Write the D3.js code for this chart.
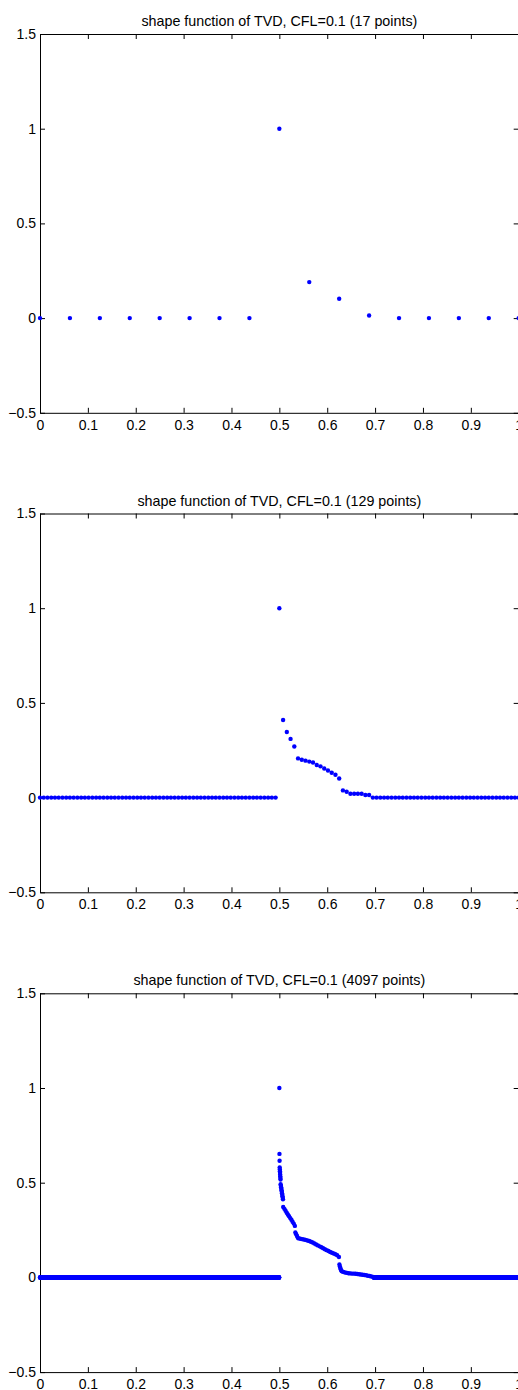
<!DOCTYPE html>
<html>
<head>
<meta charset="utf-8">
<script src="https://cdn.jsdelivr.net/npm/d3@7"></script>
<style>
  body { margin: 0; background: #fff; }
  svg { display: block; }
  text { font-family: "Liberation Sans", Arial, Helvetica, sans-serif; fill: #000; }
</style>
</head>
<body>
<svg id="fig" width="518" height="1390"></svg>
<script>
// ---- tick labels ----
const xTicks = [0, 0.1, 0.2, 0.3, 0.4, 0.5, 0.6, 0.7, 0.8, 0.9, 1];
const yTicks = [-0.5, 0, 0.5, 1, 1.5];

// ---- panel titles ----
const titles = [
  "shape function of TVD, CFL=0.1 (17 points)",
  "shape function of TVD, CFL=0.1 (129 points)",
  "shape function of TVD, CFL=0.1 (4097 points)"
];

// ---- 17-point grid: shape function values ----
const tvd17 = [0, 0, 0, 0, 0, 0, 0, 0, 1, 0.19, 0.102, 0.014, 0, 0, 0, 0, 0];

// ---- 129-point grid: shape function values ----
const tvd129 = [
  0, 0, 0, 0, 0, 0, 0, 0, 0, 0, 0, 0, 0, 0, 0, 0,
  0, 0, 0, 0, 0, 0, 0, 0, 0, 0, 0, 0, 0, 0, 0, 0,
  0, 0, 0, 0, 0, 0, 0, 0, 0, 0, 0, 0, 0, 0, 0, 0,
  0, 0, 0, 0, 0, 0, 0, 0, 0, 0, 0, 0, 0, 0, 0, 0,
  1,
  0.41, 0.346, 0.31, 0.27, 0.207, 0.2, 0.195, 0.19,
  0.185, 0.172, 0.165, 0.154, 0.143, 0.131, 0.121, 0.101,
  0.038, 0.031, 0.02, 0.02, 0.02, 0.02, 0.014, 0.014,
  0, 0, 0, 0, 0, 0, 0, 0, 0, 0, 0, 0, 0, 0, 0, 0,
  0, 0, 0, 0, 0, 0, 0, 0, 0, 0, 0, 0, 0, 0, 0, 0,
  0, 0, 0, 0, 0, 0, 0, 0
];

// ---- 4097-point grid ----
// index ranges (inclusive) where the shape function is exactly zero
const tvd4097ZeroRuns = [[0, 2047], [2856, 4096]];
// non-zero samples: grid index and value
const tvd4097Index = [
  2048,
  2049, 2050, 2051, 2052, 2053, 2054, 2055, 2056, 2057, 2058,
  2059, 2061, 2063, 2065, 2067, 2069, 2071, 2073, 2075, 2077, 2079,
  2081, 2091, 2101, 2111, 2121, 2131, 2141, 2151, 2161, 2171, 2181,
  2185, 2192, 2199, 2206,
  2213, 2228, 2243, 2258, 2273, 2288, 2303, 2318, 2333, 2348, 2363, 2378,
  2393, 2408, 2423, 2438, 2453, 2468, 2483, 2498, 2513, 2528, 2543, 2558,
  2562, 2566, 2570, 2574, 2578, 2583,
  2595, 2610, 2625, 2640, 2655, 2670, 2685, 2700, 2715, 2730, 2745, 2760,
  2775, 2790, 2805, 2820, 2835, 2850
];
const tvd4097Value = [
  1,
  0.652, 0.616, 0.580, 0.570, 0.561, 0.552, 0.543, 0.534, 0.525, 0.517,
  0.492, 0.484, 0.476, 0.468, 0.460, 0.452, 0.444, 0.436, 0.428, 0.420, 0.412,
  0.372, 0.362, 0.352, 0.341, 0.332, 0.323, 0.313, 0.304, 0.294, 0.284, 0.272,
  0.237, 0.228, 0.219, 0.210,
  0.206, 0.204, 0.202, 0.200, 0.198, 0.195, 0.192, 0.188, 0.184, 0.179, 0.174, 0.169,
  0.164, 0.159, 0.154, 0.149, 0.144, 0.139, 0.134, 0.130, 0.126, 0.122, 0.117, 0.108,
  0.068, 0.058, 0.049, 0.042, 0.036, 0.032,
  0.029, 0.026, 0.024, 0.022, 0.021, 0.020, 0.020, 0.019, 0.018, 0.017, 0.015, 0.014,
  0.013, 0.011, 0.009, 0.007, 0.005, 0.003
];

// ---- build point lists for each panel ----
function gridPoints(values) {
  const n = values.length;
  return values.map((v, i) => ({ x: i / (n - 1), y: v }));
}

const pts4097 = [];
tvd4097ZeroRuns.forEach(([a, b]) => {
  for (let i = a; i <= b; i++) pts4097.push({ x: i / 4096, y: 0 });
});
tvd4097Index.forEach((idx, k) => pts4097.push({ x: idx / 4096, y: tvd4097Value[k] }));

const panels = [
  { title: titles[0], points: gridPoints(tvd17), top: 34 },
  { title: titles[1], points: gridPoints(tvd129), top: 513.5 },
  { title: titles[2], points: pts4097, top: 993.3 }
];

// ---- layout ----
const left = 40, right = 518.7, plotH = 378.8;
const fontSize = 14;
const svg = d3.select("#fig");

panels.forEach(p => {
  const x = d3.scaleLinear().domain([0, 1]).range([left, right]);
  const y = d3.scaleLinear().domain([-0.5, 1.5]).range([p.top + plotH, p.top]);
  const g = svg.append("g");

  const fmt = d => (d < 0 ? "\u2212" + Math.abs(d) : String(d));

  // bottom axis, ticks pointing inward
  const ax = g.append("g")
    .attr("transform", `translate(0,${p.top + plotH})`)
    .call(d3.axisBottom(x).tickValues(xTicks).tickFormat(fmt)
      .tickSizeInner(-5).tickSizeOuter(0).tickPadding(7));
  // top axis ticks
  const axTop = g.append("g")
    .attr("transform", `translate(0,${p.top})`)
    .call(d3.axisTop(x).tickValues(xTicks).tickFormat("")
      .tickSizeInner(-5).tickSizeOuter(0));
  // left axis
  const ay = g.append("g")
    .attr("transform", `translate(${left},0)`)
    .call(d3.axisLeft(y).tickValues(yTicks).tickFormat(fmt)
      .tickSizeInner(-5).tickSizeOuter(0).tickPadding(4));
  // right axis ticks
  const ayR = g.append("g")
    .attr("transform", `translate(${right},0)`)
    .call(d3.axisRight(y).tickValues(yTicks).tickFormat("")
      .tickSizeInner(-5).tickSizeOuter(0));

  [ax, axTop, ay, ayR].forEach(a => {
    a.attr("font-family", null).attr("font-size", null);
    a.selectAll("text").style("font-size", fontSize + "px");
    a.selectAll("line, path").attr("stroke", "#000").attr("stroke-width", 1);
  });

  // data markers, drawn on top of the axes
  g.append("g")
    .selectAll("circle")
    .data(p.points)
    .join("circle")
    .attr("cx", d => x(d.x))
    .attr("cy", d => y(d.y))
    .attr("r", 2.2)
    .attr("fill", "#0000ff");

  // title
  g.append("text")
    .attr("x", (left + right) / 2)
    .attr("y", p.top - 8)
    .attr("text-anchor", "middle")
    .style("font-size", "14.3px")
    .text(p.title);
});
</script>
</body>
</html>
